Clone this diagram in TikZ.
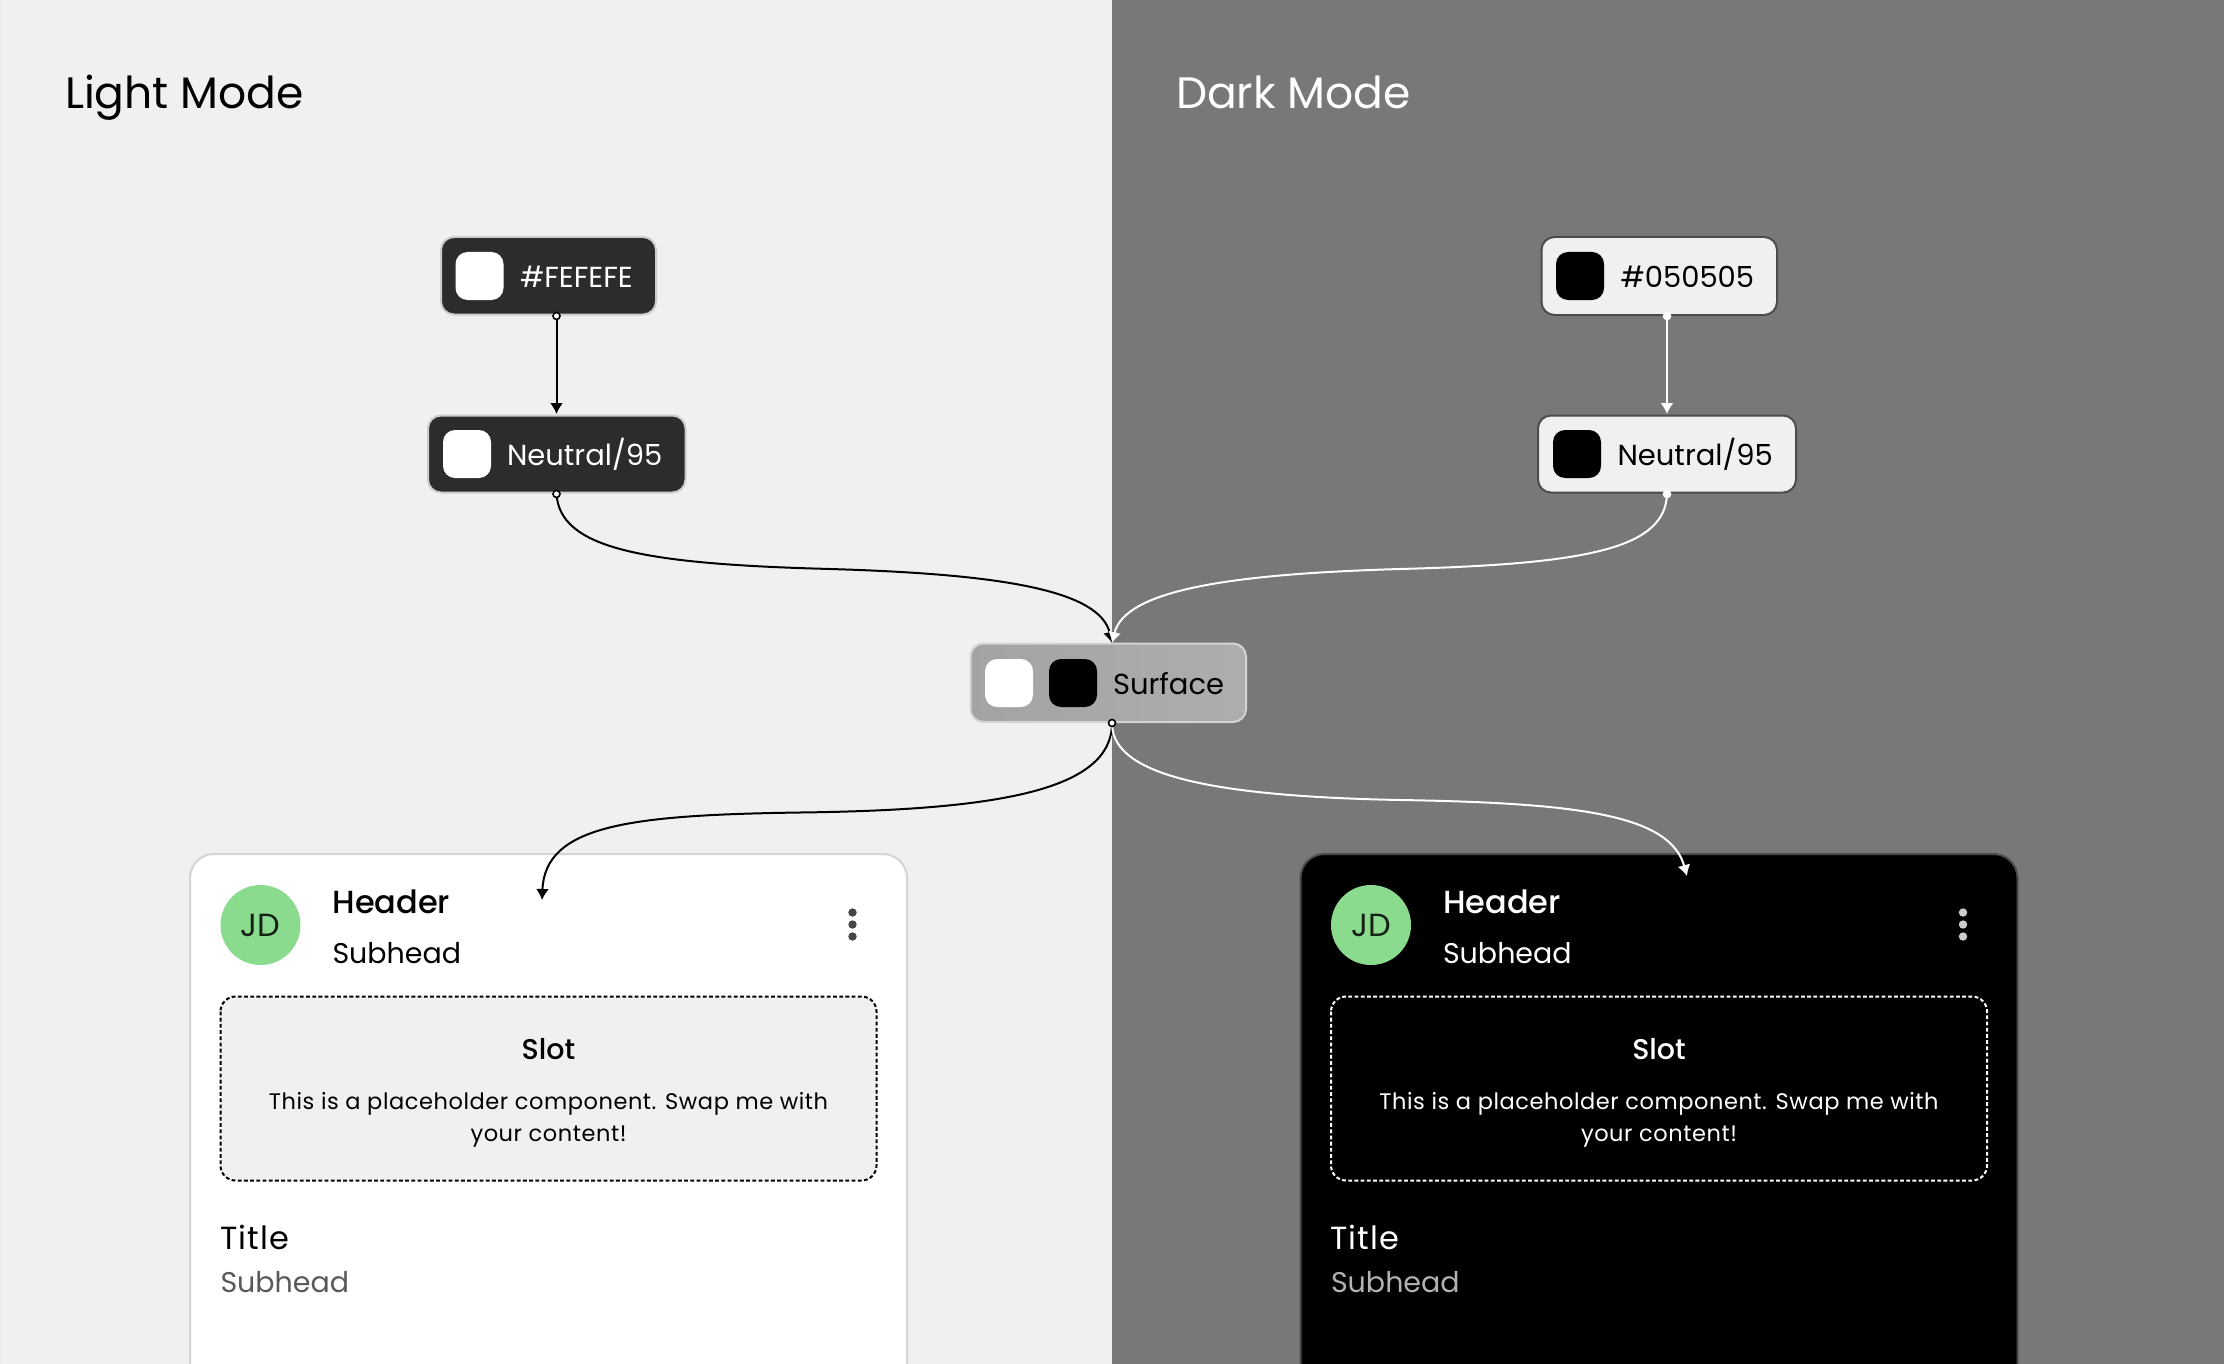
\documentclass[tikz,border=0pt]{standalone}
\usepackage{fontspec}
\setmainfont{Poppins}
\newfontfamily\pmed{Poppins Medium}
\newfontfamily\pbody[LetterSpace=2.5]{Poppins}
\newfontfamily\ptitle[LetterSpace=3.5]{Poppins}
\usetikzlibrary{arrows.meta}
\definecolor{lbg}{HTML}{F0F0F0}
\definecolor{dbg}{HTML}{787878}
\definecolor{chipd}{HTML}{2C2C2C}
\definecolor{grn}{HTML}{8BDB8F}
\definecolor{edgec}{HTML}{E8EDED}
\tikzset{
 x=1pt,y=-1pt,
 sw/.style={rounded corners=12pt},
 chip/.style={rounded corners=13pt,line width=2pt},
 conn/.style={line width=2pt,-{Latex[length=11pt,width=13pt]}},
 txt/.style={anchor=base west,inner sep=0pt,outer sep=0pt},
 ctxt/.style={anchor=base,inner sep=0pt,outer sep=0pt},
 port/.style={circle,inner sep=0pt,minimum size=7pt,line width=1.6pt},
}
\newcommand{\mkcard}[8]{% dx, fill, border, text, slotfill, subcol, prefix, dots
 \begin{scope}[xshift=#1pt]
 \draw[fill=#2,draw=#3,line width=2pt,rounded corners=24pt] (190,1400) -- (190,854) -- (907,854) -- (907,1400);
 \node[circle,fill=grn,inner sep=0pt,minimum size=80pt,text=black!85!grn,font=\fontsize{32}{32}\selectfont] (#7av) at (260.5,925) {JD};
 \node[txt,text=#4,font=\pmed\fontsize{32}{32}\selectfont] (#7h) at (332.5,913) {Header};
 \node[txt,text=#4,font=\fontsize{28.5}{28.5}\selectfont] (#7s) at (332.5,963) {Subhead};
 \foreach \yy in {912.5,924.5,936.5} \fill[fill=#8] (852.5,\yy) circle (4.2pt);
 \draw[fill=#5,draw=#4,line width=2pt,dash pattern=on 3.8pt off 2.4pt,rounded corners=15pt] (220.5,996.5) rectangle (876.5,1180.5);
 \node[ctxt,text=#4,font=\pmed\fontsize{28.5}{28.5}\selectfont] (#7t) at (548.5,1059) {Slot};
 \node[ctxt,text=#4,font=\pbody\fontsize{22.5}{22.5}\selectfont] (#7p) at (548.5,1109.5) {This is a placeholder component. Swap me with};
 \node[ctxt,text=#4,font=\pbody\fontsize{22.5}{22.5}\selectfont] (#7q) at (548.5,1141.5) {your content!};
 \node[txt,text=#4,font=\ptitle\fontsize{32}{32}\selectfont] (#7ti) at (220,1249) {Title};
 \node[txt,text=#6,font=\fontsize{28.5}{28.5}\selectfont] (#7su) at (220.5,1292) {Subhead};
 \end{scope}
}
\begin{document}
\begin{tikzpicture}
\useasboundingbox (0,0) rectangle (2224,1364);
\fill[lbg] (0,0) rectangle (1112,1364);
\fill[dbg] (1112,0) rectangle (2224,1364);
\fill[edgec] (0,0) rectangle (2,1364);
\node[txt,text=black,font=\fontsize{44}{44}\selectfont] (lm) at (65,108.5) {Light Mode};
\node[txt,text=white,font=\fontsize{44}{44}\selectfont] (dm) at (1176,108.5) {Dark Mode};
% cards
\mkcard{0}{white}{black!17}{black}{lbg}{black!65}{a}{black!72}
\mkcard{1110.5}{black}{black!70}{white}{black}{white!70!black}{b}{black!20}
% light chips
\draw[fill=chipd,draw=black!20,chip] (441,237) rectangle (656,314.5);
\fill[white,sw] (455.5,252) rectangle (503.5,300);
\node[txt,text=white,font=\fontsize{29}{29}\selectfont] (c1) at (520,287.5) {\#FEFEFE};
\draw[fill=chipd,draw=black!20,chip] (428,415.5) rectangle (685.5,492.5);
\fill[white,sw] (443,430) rectangle (491,478);
\node[txt,text=white,font=\fontsize{29}{29}\selectfont] (c2) at (507,465) {Neutral/95};
% dark chips
\draw[fill=lbg,draw=black!70,chip] (1541.5,237) rectangle (1777,315);
\fill[black,sw] (1556,252) rectangle (1604,300);
\node[txt,text=black,font=\fontsize{29}{29}\selectfont] (d1) at (1620.5,287.5) {\#050505};
\draw[fill=lbg,draw=black!70,chip] (1538,415.5) rectangle (1796,492.5);
\fill[black,sw] (1553,430) rectangle (1601,478);
\node[txt,text=black,font=\fontsize{29}{29}\selectfont] (d2) at (1617.5,465) {Neutral/95};
% surface
\draw[left color=black!36,right color=black!32,draw=black!17,line width=2pt,rounded corners=13pt] (970.5,643.5) rectangle (1246,722);
\fill[white,sw] (985,659) rectangle (1033,707);
\fill[black,sw] (1049,659) rectangle (1097,707);
\node[txt,text=black,font=\fontsize{29}{29}\selectfont] (sf) at (1113,694.5) {Surface};
% ports
\coordinate (p1) at (556.5,316);
\coordinate (p2) at (556.5,494);
\coordinate (p3) at (1667,316);
\coordinate (p4) at (1667,494);
\coordinate (s0) at (1112,723);
\coordinate (sin) at (1112,643);
\coordinate (ca) at (542,900);
\coordinate (cb) at (1687,876);
% connectors
\draw[conn,black] (p1) -- (556.5,414);
\draw[conn,white] (p3) -- (1667,414);
\draw[conn,black] (p2) .. controls (560,548) and (640,564) .. (830,569) .. controls (1000,574) and (1100,590) .. (sin);
\draw[conn,white] (p4) .. controls (1665,548) and (1590,564) .. (1400,569) .. controls (1230,574) and (1125,590) .. (sin);
\draw[conn,black] (s0) .. controls (1112,790) and (1000,810) .. (800,812.5) .. controls (630,815) and (545,825) .. (ca);
\draw[conn,white] (s0) .. controls (1112,770) and (1190,796) .. (1400,800) .. controls (1580,803) and (1670,815) .. (cb);
\node[port,fill=white,draw=black] at (p1) {};
\node[port,fill=white,draw=black] at (p2) {};
\node[port,fill=white,draw=white] at (p3) {};
\node[port,fill=white,draw=white] at (p4) {};
\node[port,fill=white,draw=black] at (s0) {};
\end{tikzpicture}
\end{document}
